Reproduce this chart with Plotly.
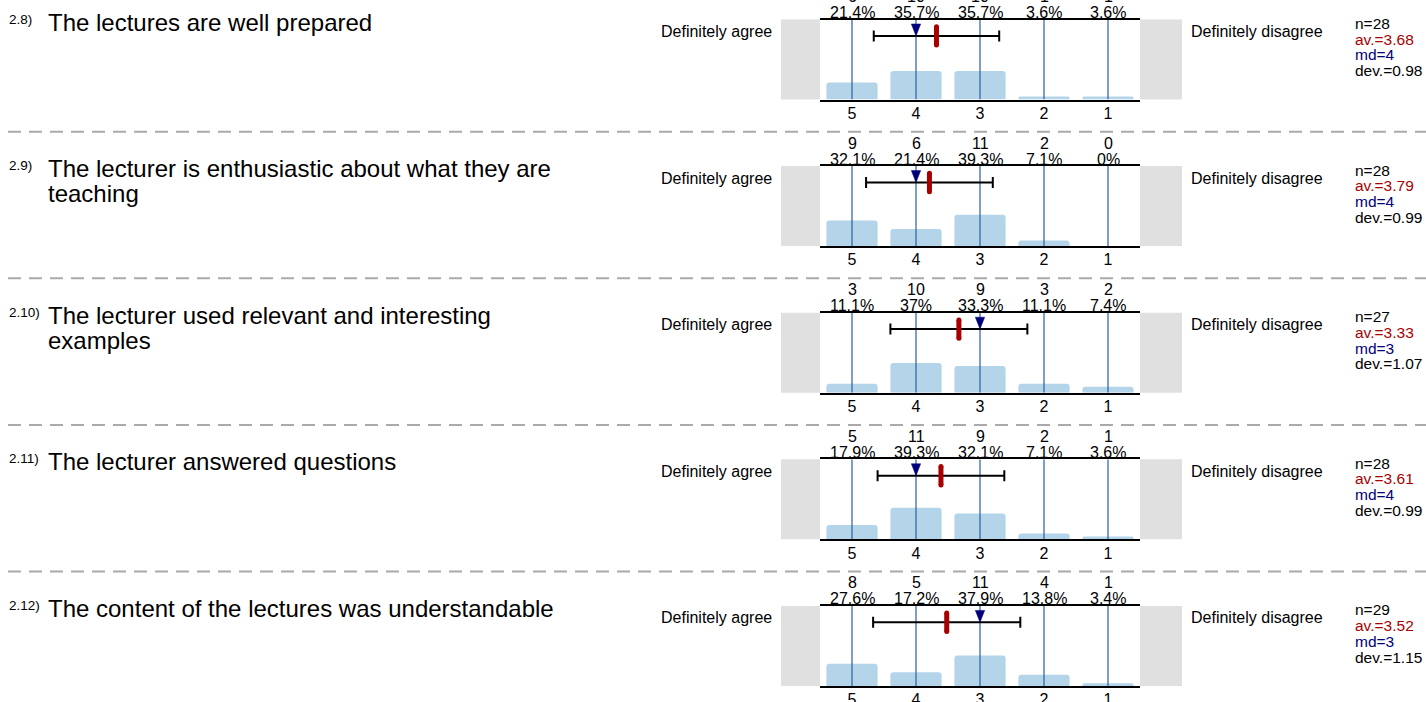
import plotly.graph_objects as go

W, H = 1426, 702

# survey data
numbers = ["2.8)", "2.9)", "2.10)", "2.11)", "2.12)"]
questions = [
    ["The lectures are well prepared"],
    ["The lecturer is enthusiastic about what they are", "teaching"],
    ["The lecturer used relevant and interesting", "examples"],
    ["The lecturer answered questions"],
    ["The content of the lectures was understandable"],
]
scale = [5, 4, 3, 2, 1]
counts = [
    [6, 10, 10, 1, 1],
    [9, 6, 11, 2, 0],
    [3, 10, 9, 3, 2],
    [5, 11, 9, 2, 1],
    [8, 5, 11, 4, 1],
]
n_resp = [28, 28, 27, 28, 29]
means = [3.68, 3.79, 3.33, 3.61, 3.52]
medians = [4, 4, 3, 4, 3]
devs = [0.98, 0.99, 1.07, 0.99, 1.15]
left_label = "Definitely agree"
right_label = "Definitely disagree"

FONT = "Arial, Liberation Sans, sans-serif"
BAR_COLOR = "#b4d4ea"
LINE_BLUE = "#2a5e9e"
RED = "#a80000"
NAVY = "#00007a"

# pixel layout
PLOT_X0, PLOT_X1 = 820, 1140
TOP0, STEP, PH = 19.5, 146.6, 80


def px(x):
    return x / W


def py(y):
    return 1 - y / H


fig = go.Figure()
shapes = []
annotations = []

for i in range(5):
    k = "" if i == 0 else str(i + 1)
    xa, ya = "x" + k, "y" + k
    top = TOP0 + i * STEP
    bot = top + PH
    pct = [round(c / n_resp[i] * 100, 1) for c in counts[i]]

    fig.add_trace(go.Bar(x=scale, y=pct, width=0.8, marker=dict(color=BAR_COLOR, line_width=0),
                         xaxis=xa, yaxis=ya, hoverinfo="skip"))
    vx, vy = [], []
    for s in scale:
        vx += [s, s, None]
        vy += [0, 100, None]
    fig.add_trace(go.Scatter(x=vx, y=vy, mode="lines", line=dict(color=LINE_BLUE, width=1.2),
                             xaxis=xa, yaxis=ya, hoverinfo="skip"))
    # std deviation bar
    ey = 79.5
    fig.add_trace(go.Scatter(x=[means[i]], y=[ey], mode="markers", marker=dict(size=1, color="black"),
                             error_x=dict(type="data", array=[devs[i]], color="black", thickness=2, width=5.5),
                             xaxis=xa, yaxis=ya, hoverinfo="skip"))
    # mean (rounded pill)
    fig.add_trace(go.Scatter(x=[means[i], means[i]], y=[ey - 11.5, ey + 11.5], mode="lines+markers",
                             line=dict(color=RED, width=5), marker=dict(size=5, color=RED),
                             xaxis=xa, yaxis=ya, hoverinfo="skip"))
    # median
    md = medians[i]
    fig.add_trace(go.Scatter(x=[md - 0.073, md + 0.073, md, md - 0.073], y=[94.4, 94.4, ey, 94.4],
                             mode="lines", fill="toself", fillcolor=NAVY, line=dict(color=NAVY, width=0.5),
                             xaxis=xa, yaxis=ya, hoverinfo="skip"))

    fig.update_layout({
        "xaxis" + k: dict(domain=[px(PLOT_X0), px(PLOT_X1)], range=[5.5, 0.5], anchor=ya,
                          tickvals=scale, ticktext=[str(s) for s in scale], ticks="",
                          ticklabelstandoff=-2, automargin=False,
                          showgrid=False, zeroline=False, showline=True, mirror=True,
                          linecolor="black", linewidth=2, tickfont=dict(size=16, color="black")),
        "yaxis" + k: dict(domain=[py(bot), py(top)], range=[0, 100], anchor=xa, visible=False,
                          automargin=False),
    })

    # grey end boxes
    for x0, x1 in [(781, PLOT_X0), (PLOT_X1, 1182)]:
        shapes.append(dict(type="rect", xref="paper", yref="paper", x0=px(x0), x1=px(x1),
                           y0=py(bot), y1=py(top), fillcolor="#e0e0e0", line_width=0, layer="below"))

    # counts and percentages
    for s, c, p in zip(scale, counts[i], pct):
        annotations.append(dict(x=s, y=1, xref=xa, yref=ya + " domain", text=f"{p:g}%", showarrow=False,
                                yanchor="middle", yshift=7, font=dict(size=16)))
        annotations.append(dict(x=s, y=1, xref=xa, yref=ya + " domain", text=str(c), showarrow=False,
                                yanchor="middle", yshift=23, font=dict(size=16)))

    annotations.append(dict(x=px(7), y=py(top - 0.5), xref="paper", yref="paper", text=numbers[i],
                            showarrow=False, xanchor="left", yanchor="middle", font=dict(size=13.5)))
    for j, line in enumerate(questions[i]):
        annotations.append(dict(x=px(46), y=py(top + 2.5 + j * 25), xref="paper", yref="paper", text=line,
                                showarrow=False, xanchor="left", yanchor="middle", font=dict(size=24)))
    annotations.append(dict(x=px(774), y=py(top + 12), xref="paper", yref="paper", text=left_label,
                            showarrow=False, xanchor="right", yanchor="middle", font=dict(size=16)))
    annotations.append(dict(x=px(1189), y=py(top + 12), xref="paper", yref="paper", text=right_label,
                            showarrow=False, xanchor="left", yanchor="middle", font=dict(size=16)))
    stats = [(f"n={n_resp[i]}", "black"), (f"av.={means[i]:.2f}", RED),
             (f"md={medians[i]}", NAVY), (f"dev.={devs[i]:.2f}", "black")]
    for j, (t, col) in enumerate(stats):
        annotations.append(dict(x=px(1353), y=py(top + 4 + j * 15.7), xref="paper", yref="paper", text=t,
                                showarrow=False, xanchor="left", yanchor="middle",
                                font=dict(size=15.5, color=col)))

# dashed separators
for i in range(4):
    y = 131.7 + i * STEP
    shapes.append(dict(type="line", xref="paper", yref="paper", x0=px(8), x1=1, y0=py(y), y1=py(y),
                       line=dict(color="#aaaaaa", width=2, dash="13px,8px")))

fig.update_layout(
    width=W, height=H, margin=dict(l=0, r=0, t=0, b=0, autoexpand=False),
    paper_bgcolor="white", plot_bgcolor="white",
    font=dict(family=FONT, color="black"),
    showlegend=False, barcornerradius=3,
    shapes=shapes, annotations=annotations,
)

fig.write_html("out.html", config={"displayModeBar": False},
               post_script="document.body.style.margin='0';")
